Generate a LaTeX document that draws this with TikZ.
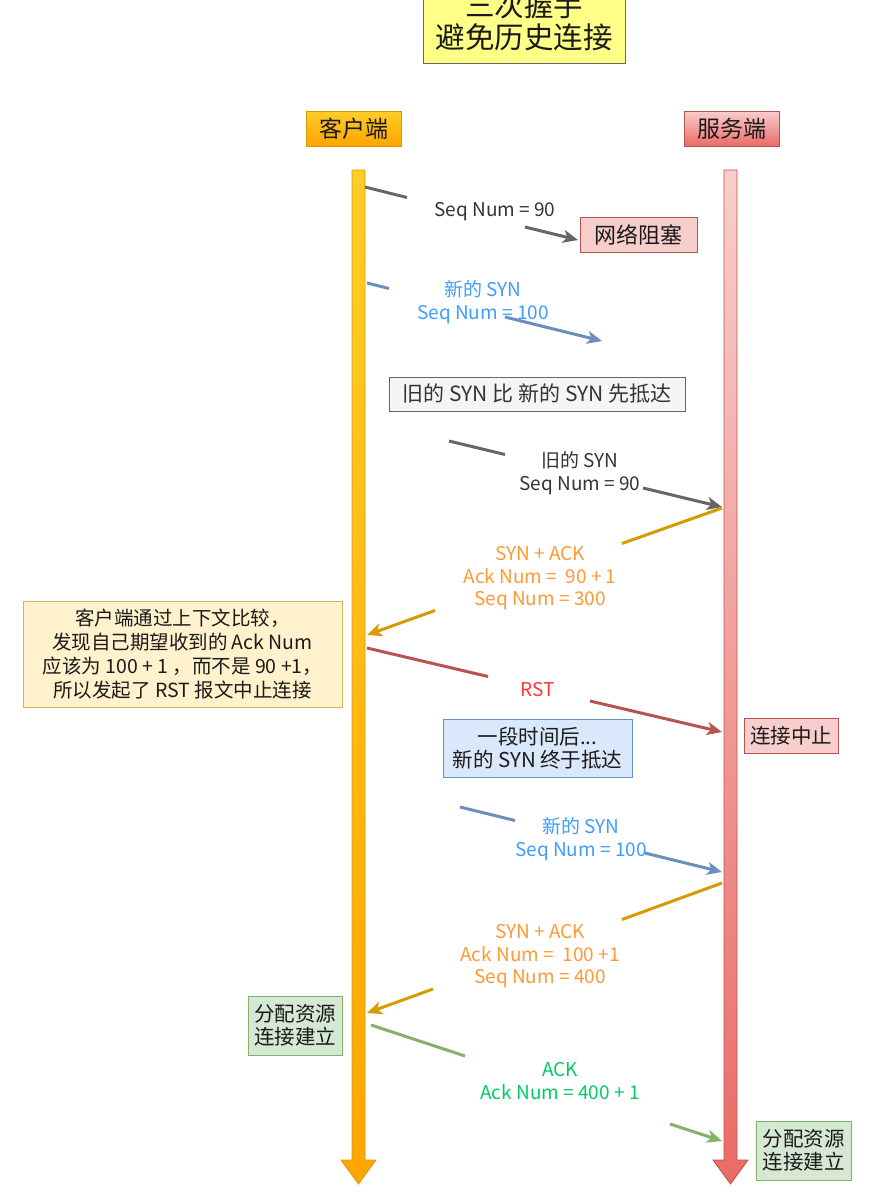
\documentclass[tikz,border=0pt]{standalone}
\usepackage{fontspec}
\setmainfont{Noto Sans CJK SC}
\usetikzlibrary{arrows.meta}
\definecolor{gline}{HTML}{666666}
\definecolor{gtext}{HTML}{333333}
\definecolor{bline}{HTML}{6C8EBF}
\definecolor{btext}{HTML}{3F9CFF}
\definecolor{oline}{HTML}{D79B00}
\definecolor{otext}{HTML}{FF9933}
\definecolor{rline}{HTML}{B85450}
\definecolor{rtext}{HTML}{FF3333}
\definecolor{grline}{HTML}{82B366}
\definecolor{grtext}{HTML}{00CC66}
\definecolor{titlefill}{HTML}{FFFF88}
\definecolor{yelfill}{HTML}{FFF2CC}
\definecolor{yelline}{HTML}{D6B656}
\definecolor{redfill}{HTML}{F8CECC}
\definecolor{redbot}{HTML}{EA6B66}
\definecolor{orgtop}{HTML}{FFCD28}
\definecolor{orgbot}{HTML}{FFA500}
\definecolor{bluefill}{HTML}{DAE8FC}
\definecolor{greenfill}{HTML}{D5E8D4}
\definecolor{grayfill}{HTML}{F5F5F5}
\definecolor{txt}{HTML}{1A1A1A}
\tikzset{
  box/.style={draw, line width=1pt, inner sep=0pt, align=center, text=txt},
  msg/.style={line width=3pt},
  msgarr/.style={line width=3pt, -{Stealth[length=15pt,width=13pt,inset=4pt]}},
  lbl/.style={align=center, inner sep=0pt, font=\fontsize{19}{22.5}\selectfont},
  lifebar/.style={line width=0.8pt}
}
\begin{document}
\begin{tikzpicture}[x=1pt,y=-1pt]
\useasboundingbox (0,0) rectangle (890,1203);

% title
\node[box, draw=gline, fill=titlefill, minimum width=202pt, minimum height=84pt,
  font=\fontsize{29.5}{32}\selectfont] (title) at (524,21) {三次握手\\避免历史连接};

% headers
\node[box, draw=oline, top color=orgtop, bottom color=orgbot, minimum width=95pt, minimum height=35pt,
  font=\fontsize{23}{26}\selectfont] (client) at (353.5,128.5) {客户端};
\node[box, draw=rline, top color=redfill, bottom color=redbot, minimum width=95pt, minimum height=35pt,
  font=\fontsize{23}{26}\selectfont] (server) at (731.5,128.5) {服务端};

% lifelines
\shade[lifebar, draw=oline, top color=orgtop, bottom color=orgbot]
  (352,170) -- (365,170) -- (365,1160) -- (376,1160) -- (358.5,1184) -- (341,1160) -- (352,1160) -- cycle;
\shade[lifebar, draw=rline, top color=redfill, bottom color=redbot]
  (724,170) -- (737,170) -- (737,1160) -- (748,1160) -- (730.5,1184) -- (713,1160) -- (724,1160) -- cycle;

% boxes
\node[box, draw=rline, fill=redfill, minimum width=117pt, minimum height=35pt,
  font=\fontsize{22}{25}\selectfont] (block) at (638.5,234.5) {网络阻塞};
\node[box, draw=gline, fill=grayfill, minimum width=296pt, minimum height=34pt,
  font=\fontsize{21}{24}\selectfont, text=gtext] (note1) at (537,394) {旧的 SYN 比 新的 SYN 先抵达};
\node[box, draw=yelline, fill=yelfill, minimum width=319pt, minimum height=106pt,
  font=\fontsize{19.5}{24}\selectfont] (note2) at (182.5,654) {客户端通过上下文比较，\\发现自己期望收到的 Ack Num\\应该为 100 + 1 ，而不是 90 +1，\\所以发起了 RST 报文中止连接};
\node[box, draw=rline, fill=redfill, minimum width=94pt, minimum height=35pt,
  font=\fontsize{20.5}{24}\selectfont] (abort) at (791,735.5) {连接中止};
\node[box, draw=bline, fill=bluefill, minimum width=189pt, minimum height=58pt,
  font=\fontsize{20.5}{23}\selectfont] (note3) at (537.5,748) {一段时间后...\\新的 SYN 终于抵达};
\node[box, draw=grline, fill=greenfill, minimum width=94pt, minimum height=59pt,
  font=\fontsize{20.5}{23}\selectfont] (estc) at (295,1025.5) {分配资源\\连接建立};
\node[box, draw=grline, fill=greenfill, minimum width=95pt, minimum height=59pt,
  font=\fontsize{20.5}{23}\selectfont] (ests) at (803.5,1150.5) {分配资源\\连接建立};

% coordinates on lifelines and label gaps
\coordinate (s1) at (365,187);   \coordinate (g1a) at (407,197.5); \coordinate (g1b) at (525,227); \coordinate (t1) at (578,240);
\coordinate (s2) at (367,283);   \coordinate (g2a) at (389,288.5); \coordinate (g2b) at (505,317); \coordinate (t2) at (602,341);
\coordinate (s3) at (449,441);   \coordinate (g3a) at (505,454.5); \coordinate (g3b) at (643,488); \coordinate (t3) at (722,507);
\coordinate (s4) at (722,508);   \coordinate (g4a) at (622,543.5); \coordinate (g4b) at (435,610.5); \coordinate (t4) at (367,635);
\coordinate (s5) at (367,648);   \coordinate (g5a) at (488,676.5); \coordinate (g5b) at (590,701); \coordinate (t5) at (722,732);
\coordinate (s6) at (460,807);   \coordinate (g6a) at (515,820.5); \coordinate (g6b) at (645,853); \coordinate (t6) at (722,872);
\coordinate (s7) at (722,883);   \coordinate (g7a) at (622,919.5); \coordinate (g7b) at (433,989); \coordinate (t7) at (367,1013);
\coordinate (s8) at (371,1025);  \coordinate (g8a) at (465,1056); \coordinate (g8b) at (670,1124); \coordinate (t8) at (722,1141);

% messages
\draw[msg, gline] (s1) -- (g1a);  \draw[msgarr, gline] (g1b) -- (t1);
\draw[msg, bline] (s2) -- (g2a);  \draw[msgarr, bline] (g2b) -- (t2);
\draw[msg, gline] (s3) -- (g3a);  \draw[msgarr, gline] (g3b) -- (t3);
\draw[msg, oline] (s4) -- (g4a);  \draw[msgarr, oline] (g4b) -- (t4);
\draw[msg, rline] (s5) -- (g5a);  \draw[msgarr, rline] (g5b) -- (t5);
\draw[msg, bline] (s6) -- (g6a);  \draw[msgarr, bline] (g6b) -- (t6);
\draw[msg, oline] (s7) -- (g7a);  \draw[msgarr, oline] (g7b) -- (t7);
\draw[msg, grline] (s8) -- (g8a); \draw[msgarr, grline] (g8b) -- (t8);

% labels
\node[lbl, text=gtext] (l1) at (495,212) {Seq Num = 90};
\node[lbl, text=btext] (l2) at (483,302) {新的 SYN\\Seq Num = 100};
\node[lbl, text=gtext] (l3) at (580,473) {旧的 SYN\\Seq Num = 90};
\node[lbl, text=otext] (l4) at (540,578.5) {SYN + ACK\\Ack Num =~~90 + 1\\Seq Num = 300};
\node[lbl, text=rtext] (l5) at (538,690) {RST};
\node[lbl, text=btext] (l6) at (581,839) {新的 SYN\\Seq Num = 100};
\node[lbl, text=otext] (l7) at (540,956.5) {SYN + ACK\\Ack Num =~~100 +1\\Seq Num = 400};
\node[lbl, text=grtext] (l8) at (560,1081) {ACK\\Ack Num = 400 + 1};
\end{tikzpicture}
\end{document}
